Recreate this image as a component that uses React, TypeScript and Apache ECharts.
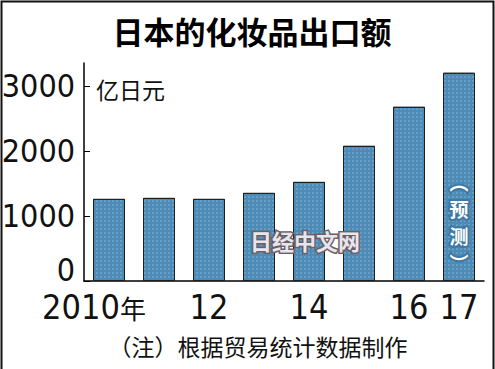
import React, { useEffect, useRef } from "react";
import * as echarts from "echarts";

const categories = ["2010", "2011", "2012", "2013", "2014", "2015", "2016", "2017"];
const tickLabels = ["2010年", "", "12", "", "14", "", "16", "17"];
const exportValues = [1262, 1277, 1262, 1354, 1523, 2077, 2677, 3200];
const yTicks = [0, 1000, 2000, 3000];
const titleText = "日本的化妆品出口额";
const unitText = "亿日元";
const noteText = "（注）根据贸易统计数据制作";
const forecastChars = ["预", "测"];
const watermarkText = "日经中文网";

const NUM_FONT = '"Liberation Sans Narrow", "Arial Narrow", "DejaVu Sans Condensed", "Noto Sans CJK SC", sans-serif';
const CJK_FONT = '"Noto Sans CJK SC", "Noto Sans", sans-serif';

function xLabel(_v: string, i: number) {
  const t = tickLabels[i];
  if (!t) return "";
  if (t.endsWith("年")) {
    return "{n|" + t.slice(0, -1) + "}{s|年}{p|}";
  }
  return "{n|" + t + "}";
}

export default function App() {
  const ref = useRef<HTMLDivElement>(null);
  useEffect(() => {
    if (!ref.current) return;
    const chart = echarts.init(ref.current, null, { renderer: "svg" });
    const last = exportValues.length - 1;
    const lblStyle = {
      fontWeight: "bold",
      fontFamily: CJK_FONT,
      color: "#fff",
      textBorderColor: "#3f78a3",
      textBorderWidth: 4,
    };
    chart.setOption({
      animation: false,
      backgroundColor: "#ffffff",
      grid: { left: 84, right: 11, top: 63, bottom: 88, containLabel: false, outerBoundsMode: "none" },
      xAxis: {
        type: "category",
        data: categories,
        axisLine: { show: true, lineStyle: { color: "#000", width: 1.5 } },
        axisTick: { show: false },
        axisLabel: {
          interval: 0,
          margin: 11,
          color: "#111",
          fontSize: 34,
          lineHeight: 30,
          fontFamily: NUM_FONT,
          formatter: xLabel,
          rich: {
            n: { fontSize: 34, lineHeight: 30, fontFamily: NUM_FONT, color: "#111" },
            s: { fontSize: 26, lineHeight: 30, fontFamily: CJK_FONT, color: "#111" },
            p: { width: 30, fontSize: 26, lineHeight: 30 },
          },
        },
      },
      yAxis: {
        type: "value",
        min: 0,
        max: 3350,
        interval: 1000,
        axisLine: { show: true, lineStyle: { color: "#000", width: 1.5 } },
        axisTick: { show: true, inside: true, length: 6, customValues: yTicks, lineStyle: { color: "#000" } },
        axisLabel: {
          customValues: yTicks,
          margin: 9,
          color: "#111",
          fontSize: 32,
          lineHeight: 26,
          fontFamily: NUM_FONT,
          formatter: (v: number) => (v === 0 ? "{z|0}" : String(v)),
          rich: {
            z: { fontSize: 32, lineHeight: 26, fontFamily: NUM_FONT, color: "#111", padding: [0, 0, 22, 0] },
          },
        },
        splitLine: { show: false },
      },
      series: [
        {
          type: "bar",
          barWidth: 32,
          data: exportValues.map((v, i) =>
            i === last
              ? {
                  value: v,
                  label: {
                    show: true,
                    position: "insideBottom",
                    distance: 5,
                    formatter:
                      "{p|︵}\n{c|" + forecastChars[0] + "}\n{c|" + forecastChars[1] + "}\n{p|︶}",
                    ...lblStyle,
                    rich: {
                      p: { ...lblStyle, fontSize: 19, lineHeight: 27 },
                      c: { ...lblStyle, fontSize: 19, lineHeight: 27 },
                    },
                  },
                }
              : v
          ),
          itemStyle: {
            color: "#4d8ab4",
            borderColor: "#1e1e1e",
            borderWidth: 1,
            decal: {
              symbol: "rect",
              symbolSize: 1,
              color: "rgba(120,175,215,0.55)",
              dashArrayX: [2, 2],
              dashArrayY: [2, 2],
              rotation: 0,
            },
          },
        },
      ],
      graphic: [
        {
          type: "rect",
          shape: { x: 1.5, y: 1.5, width: 492, height: 420 },
          style: { fill: "none", stroke: "#111", lineWidth: 2 },
          silent: true,
        },
        {
          type: "text",
          x: 252,
          y: 30,
          style: {
            text: titleText,
            fontSize: 31,
            fontWeight: "bold",
            fontFamily: CJK_FONT,
            fill: "#000",
            align: "center",
            verticalAlign: "middle",
          },
        },
        {
          type: "text",
          x: 96,
          y: 89,
          style: {
            text: unitText,
            fontSize: 23,
            fontFamily: CJK_FONT,
            fill: "#111",
            align: "left",
            verticalAlign: "middle",
          },
        },
        {
          type: "text",
          x: 258,
          y: 346,
          style: {
            text: noteText,
            fontSize: 23,
            fontFamily: CJK_FONT,
            fill: "#111",
            align: "center",
            verticalAlign: "middle",
          },
        },
        {
          type: "text",
          x: 305,
          y: 240,
          z: 100,
          style: {
            text: watermarkText,
            fontSize: 22,
            fontWeight: "bold",
            fontFamily: CJK_FONT,
            fill: "#e6e6ee",
            stroke: "#6e5e64",
            lineWidth: 3,
            align: "center",
            verticalAlign: "middle",
          },
        },
      ],
    });
    return () => chart.dispose();
  }, []);
  return (
    <div
      ref={ref}
      style={{ position: "fixed", left: 0, top: 0, width: 495, height: 369 }}
    />
  );
}
